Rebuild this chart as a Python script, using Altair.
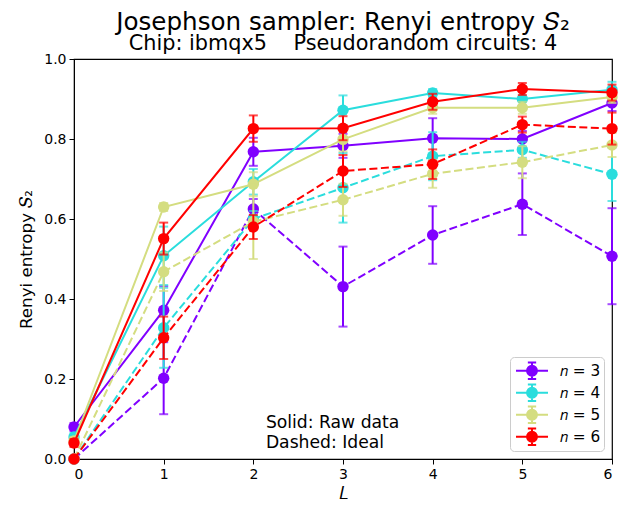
import altair as alt
import pandas as pd

L = [0, 1, 2, 3, 4, 5, 6]
ns = ["3", "4", "5", "6"]
colors = ["#8000ff", "#2adddd", "#d4dd80", "#ff0000"]

raw = {
    "3": [0.080, 0.372, 0.768, 0.783, 0.802, 0.800, 0.890],
    "4": [0.055, 0.508, 0.693, 0.872, 0.915, 0.900, 0.923],
    "5": [0.045, 0.630, 0.687, 0.799, 0.878, 0.878, 0.905],
    "6": [0.040, 0.551, 0.826, 0.827, 0.893, 0.925, 0.916],
}
raw_err = {
    "3": [0.010, 0.060, 0.035, 0.030, 0.050, 0.020, 0.020],
    "4": [0.010, 0.073, 0.032, 0.037, 0.010, 0.020, 0.020],
    "5": [0.010, 0.010, 0.030, 0.030, 0.015, 0.015, 0.015],
    "6": [0.010, 0.040, 0.033, 0.030, 0.020, 0.015, 0.020],
}
ideal = {
    "3": [0.0, 0.202, 0.625, 0.431, 0.560, 0.637, 0.507],
    "4": [0.0, 0.328, 0.600, 0.678, 0.757, 0.773, 0.712],
    "5": [0.0, 0.468, 0.593, 0.648, 0.713, 0.742, 0.785],
    "6": [0.0, 0.303, 0.580, 0.720, 0.737, 0.836, 0.826],
}
ideal_err = {
    "3": [0.005, 0.090, 0.025, 0.100, 0.072, 0.077, 0.120],
    "4": [0.005, 0.100, 0.020, 0.087, 0.060, 0.020, 0.067],
    "5": [0.005, 0.048, 0.093, 0.040, 0.035, 0.040, 0.030],
    "6": [0.005, 0.053, 0.030, 0.040, 0.037, 0.020, 0.040],
}
y_ticks = [0.0, 0.2, 0.4, 0.6, 0.8, 1.0]
note_lines = ["Solid: Raw data", "Dashed: Ideal"]

rows = []
for n in ns:
    for kind, vals, errs in (("raw", raw[n], raw_err[n]), ("ideal", ideal[n], ideal_err[n])):
        for l, v, e in zip(L, vals, errs):
            rows.append({"L": l, "S2": v, "lo": v - e, "hi": v + e, "n": n, "kind": kind})
df = pd.DataFrame(rows)

FONT = "DejaVu Sans"
xs = alt.Scale(domain=[0, 6], nice=False)
ys = alt.Scale(domain=[0, 1], nice=False)
X = alt.X("L:Q", scale=xs, title="𝐿", axis=alt.Axis(values=L, format="d", grid=False))
Y_AX = alt.Axis(values=y_ticks, format=".1f", grid=False, titlePadding=8)
YT = "Renyi entropy 𝑆₂"

# errorbar legend glyph: line, vertical bar with caps, and a circle (bezier)
r, k = 0.62, 0.62 * 0.5523
circle = (f"M{r},0C{r},{k},{k},{r},0,{r}C{-k},{r},{-r},{k},{-r},0"
          f"C{-r},{-k},{-k},{-r},0,{-r}C{k},{-r},{r},{-k},{r},0Z")
sym = "M-2,0H2M0,-1.04V1.04M-0.52,-1.04H0.52M-0.52,1.04H0.52" + circle
legend = alt.Legend(
    title=None, orient="bottom-right", offset=8, symbolSize=256, symbolType=sym,
    symbolStrokeWidth=2, symbolOpacity=1, clipHeight=21.5,
    labelFontSize=15.3, labelFont=FONT, labelColor="black",
    labelExpr="'𝑛 = ' + datum.label", strokeColor="#cccccc", fillColor="white",
    cornerRadius=4, padding=3, rowPadding=0, symbolOffset=10, labelOffset=19,
)
cscale = alt.Scale(domain=ns, range=colors)

base = alt.Chart(df)
layers = []
for n, c in zip(ns, colors):
    for kind in ("raw", "ideal"):
        b = base.transform_filter((alt.datum.n == n) & (alt.datum.kind == kind))
        dash = [] if kind == "raw" else [8, 3.5]
        layers.append(b.mark_rule(color=c, strokeWidth=2).encode(
            x=X, y=alt.Y("lo:Q", scale=ys, title=YT, axis=Y_AX), y2="hi:Q"))
        layers.append(b.mark_tick(color=c, orient="horizontal", size=9, thickness=2).encode(
            x=X, y=alt.Y("lo:Q", scale=ys, title=YT, axis=Y_AX)))
        layers.append(b.mark_tick(color=c, orient="horizontal", size=9, thickness=2).encode(
            x=X, y=alt.Y("hi:Q", scale=ys, title=YT, axis=Y_AX)))
        layers.append(b.mark_line(color=c, strokeWidth=2, strokeDash=dash).encode(
            x=X, y=alt.Y("S2:Q", scale=ys, title=YT, axis=Y_AX)))
        layers.append(b.mark_point(filled=True, size=130, opacity=1, color=c).encode(
            x=X, y=alt.Y("S2:Q", scale=ys, title=YT, axis=Y_AX)))

# legend carrier: no visible marks, only the legend
leg = base.transform_filter("false").mark_point(
    shape=sym, filled=True, size=256, strokeWidth=2, opacity=1
).encode(
    x=X, y=alt.Y("S2:Q", scale=ys, title=YT, axis=Y_AX),
    fill=alt.Fill("n:N", scale=cscale, legend=legend),
    stroke=alt.Stroke("n:N", scale=cscale, legend=legend),
)
layers.append(leg)

note = alt.Chart(pd.DataFrame({"t": ["\n".join(note_lines)]})).mark_text(
    align="left", baseline="top", fontSize=17.2, font=FONT, lineHeight=19.5,
    color="black", lineBreak="\n"
).encode(x=alt.datum(2.14, scale=xs), y=alt.datum(0.112, scale=ys), text="t:N")
layers.append(note)

chart = alt.layer(*layers).properties(
    width=538, height=400,
    padding={"left": 10, "top": 1, "right": 5, "bottom": 5},
    title=alt.TitleParams("Josephson sampler: Renyi entropy 𝑆₂",
                          subtitle="Chip: ibmqx5\u00a0\u00a0\u00a0\u00a0Pseudorandom circuits: 4",
                          fontSize=24.6, subtitleFontSize=20.8, font=FONT, subtitleFont=FONT,
                          fontWeight="normal", color="black", subtitleColor="black",
                          anchor="middle", offset=-3, subtitlePadding=-1),
).configure_view(stroke="black", strokeWidth=1.2).configure_axis(
    labelFont=FONT, titleFont=FONT, labelFontSize=14, titleFontSize=16.7,
    titleFontWeight="normal", labelColor="black", titleColor="black",
    domainColor="black", tickColor="black", tickSize=5, labelPadding=3
)

chart.save("out.html", embed_options={"renderer": "svg", "actions": False})
